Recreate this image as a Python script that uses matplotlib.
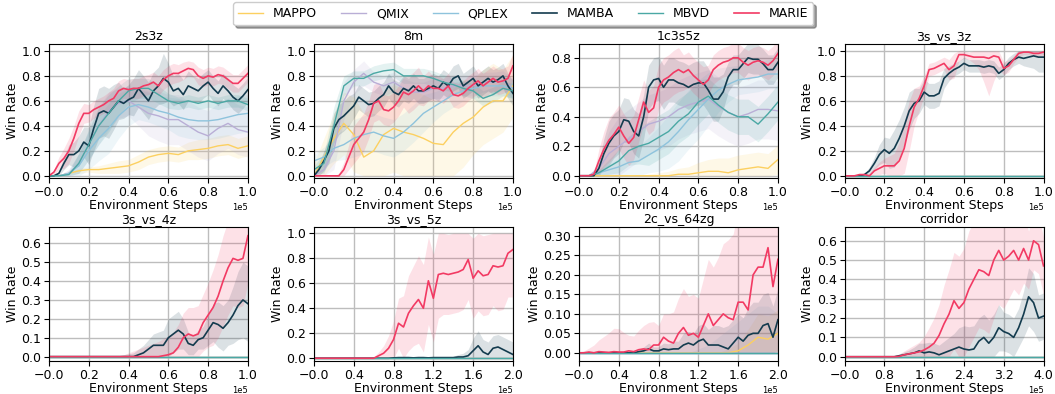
import numpy as np
import matplotlib.pyplot as plt

methods = ["MAPPO", "QMIX", "QPLEX", "MAMBA", "MBVD", "MARIE"]
colors = ["#fcd060", "#b9aed6", "#8ec3dc", "#133b4e", "#4aa8a4", "#f23a63"]

# mean win rate, sampled evenly over the panel's step range
flat = [0.0, 0.0]

# ---- 2s3z
a_mappo = [0, 0, 0.02, 0.04, 0.05, 0.05, 0.06, 0.07, 0.08, 0.11, 0.15, 0.17, 0.18, 0.17, 0.2, 0.21, 0.22, 0.24, 0.25, 0.22, 0.24]
a_qmix = [0, 0, 0.02, 0.1, 0.25, 0.4, 0.52, 0.58, 0.6, 0.55, 0.5, 0.48, 0.45, 0.45, 0.4, 0.35, 0.32, 0.38, 0.42, 0.37, 0.35]
a_qplex = [0, 0, 0.02, 0.08, 0.2, 0.3, 0.38, 0.48, 0.55, 0.57, 0.55, 0.52, 0.5, 0.47, 0.45, 0.44, 0.44, 0.45, 0.47, 0.49, 0.5]
a_mamba = [0, 0, 0.02, 0.1, 0.17, 0.17, 0.2, 0.27, 0.24, 0.38, 0.5, 0.52, 0.5, 0.55, 0.6, 0.58, 0.61, 0.63, 0.7, 0.65,
           0.6, 0.68, 0.72, 0.78, 0.75, 0.68, 0.7, 0.65, 0.72, 0.7, 0.68, 0.72, 0.75, 0.7, 0.66, 0.72, 0.68, 0.63, 0.6, 0.64, 0.69]
a_mbvd = [0, 0, 0.01, 0.1, 0.25, 0.4, 0.5, 0.6, 0.68, 0.7, 0.7, 0.65, 0.6, 0.58, 0.6, 0.58, 0.6, 0.58, 0.6, 0.6, 0.57]
a_marie = [0, 0.03, 0.1, 0.14, 0.2, 0.3, 0.42, 0.5, 0.5, 0.53, 0.55, 0.57, 0.6, 0.62, 0.68, 0.7, 0.69, 0.7, 0.7, 0.72,
           0.73, 0.75, 0.72, 0.77, 0.8, 0.82, 0.82, 0.84, 0.86, 0.85, 0.8, 0.78, 0.8, 0.79, 0.81, 0.8, 0.77, 0.74, 0.74, 0.78, 0.82]
a_mappo_sd = [0, 0, 0.01, 0.02, 0.02, 0.03, 0.04, 0.05, 0.05, 0.06, 0.06, 0.06, 0.06, 0.06, 0.07, 0.08, 0.08, 0.08, 0.08, 0.08, 0.08]
a_qmix_sd = [0, 0, 0.03, 0.08, 0.12, 0.15, 0.15, 0.12, 0.12, 0.15, 0.18, 0.2, 0.2, 0.2, 0.2, 0.2, 0.2, 0.2, 0.2, 0.2, 0.2]
a_qplex_sd = [0, 0, 0.03, 0.1, 0.15, 0.18, 0.2, 0.18, 0.15, 0.12, 0.12, 0.12, 0.13, 0.15, 0.15, 0.15, 0.15, 0.15, 0.15, 0.15, 0.15]
a_mamba_sd = [0, 0.01, 0.02, 0.05, 0.08, 0.1, 0.12, 0.12, 0.15, 0.18, 0.2, 0.2, 0.2, 0.18, 0.15, 0.12, 0.12, 0.15, 0.15, 0.15,
              0.15, 0.15, 0.15, 0.2, 0.15, 0.12, 0.12, 0.12, 0.12, 0.1, 0.1, 0.1, 0.1, 0.1, 0.1, 0.1, 0.1, 0.1, 0.1, 0.1, 0.1]
a_mbvd_sd = [0, 0, 0.02, 0.08, 0.12, 0.15, 0.15, 0.12, 0.1, 0.08, 0.08, 0.07, 0.06, 0.05, 0.05, 0.05, 0.05, 0.05, 0.05, 0.05, 0.05]
a_marie_sd = [0, 0.02, 0.05, 0.08, 0.1, 0.1, 0.1, 0.08, 0.07, 0.07, 0.07, 0.07, 0.07, 0.08, 0.08, 0.08, 0.08, 0.08, 0.08, 0.08,
              0.08, 0.08, 0.08, 0.08, 0.08, 0.08, 0.07, 0.07, 0.06, 0.06, 0.07, 0.07, 0.07, 0.07, 0.07, 0.07, 0.07, 0.07, 0.07, 0.07, 0.07]

# ---- 8m
b_mappo = [0, 0.15, 0.3, 0.42, 0.33, 0.15, 0.2, 0.33, 0.38, 0.35, 0.33, 0.3, 0.26, 0.25, 0.35, 0.42, 0.47, 0.55, 0.6, 0.6, 0.72]
b_qmix = [0, 0.05, 0.2, 0.6, 0.75, 0.82, 0.75, 0.72, 0.75, 0.7, 0.67, 0.67, 0.7, 0.7, 0.72, 0.72, 0.72, 0.75, 0.75, 0.76, 0.7]
b_qplex = [0.12, 0.15, 0.22, 0.25, 0.3, 0.33, 0.35, 0.32, 0.3, 0.35, 0.42, 0.5, 0.55, 0.6, 0.65, 0.68, 0.7, 0.72, 0.72, 0.72, 0.7]
b_mamba = [0, 0.05, 0.12, 0.2, 0.38, 0.45, 0.48, 0.52, 0.56, 0.63, 0.6, 0.57, 0.58, 0.62, 0.65, 0.72, 0.67, 0.65, 0.7, 0.68,
           0.72, 0.68, 0.68, 0.7, 0.72, 0.7, 0.75, 0.72, 0.78, 0.8, 0.72, 0.75, 0.78, 0.72, 0.75, 0.78, 0.75, 0.77, 0.8, 0.72, 0.66]
b_mbvd = [0.05, 0.1, 0.4, 0.72, 0.78, 0.78, 0.82, 0.84, 0.85, 0.8, 0.8, 0.8, 0.78, 0.75, 0.73, 0.7, 0.68, 0.62, 0.65, 0.7, 0.68]
b_marie = [0, 0, 0, 0, 0, 0, 0.05, 0.15, 0.25, 0.3, 0.35, 0.45, 0.58, 0.6, 0.53, 0.52, 0.55, 0.6, 0.67, 0.65,
           0.68, 0.72, 0.68, 0.72, 0.7, 0.7, 0.68, 0.72, 0.65, 0.64, 0.66, 0.7, 0.73, 0.76, 0.72, 0.75, 0.78, 0.75, 0.76, 0.78, 0.88]
b_mappo_sd = [0.1, 0.15, 0.2, 0.25, 0.3, 0.35, 0.35, 0.35, 0.35, 0.35, 0.35, 0.35, 0.35, 0.35, 0.35, 0.35, 0.3, 0.3, 0.3, 0.25, 0.25]
b_qmix_sd = [0.05, 0.08, 0.15, 0.15, 0.1, 0.1, 0.08, 0.08, 0.08, 0.08, 0.08, 0.08, 0.08, 0.08, 0.08, 0.08, 0.08, 0.08, 0.08, 0.08, 0.08]
b_qplex_sd = [0.05, 0.08, 0.1, 0.12, 0.15, 0.15, 0.15, 0.15, 0.15, 0.15, 0.15, 0.15, 0.12, 0.1, 0.1, 0.08, 0.08, 0.08, 0.08, 0.08, 0.08]
b_mamba_sd = [0.02, 0.05, 0.08, 0.1, 0.12, 0.12, 0.12, 0.12, 0.1, 0.1, 0.1, 0.1, 0.1, 0.1, 0.1, 0.1, 0.1, 0.1, 0.1, 0.1,
              0.1, 0.1, 0.1, 0.1, 0.1, 0.1, 0.1, 0.1, 0.1, 0.1, 0.1, 0.1, 0.1, 0.1, 0.1, 0.1, 0.1, 0.1, 0.1, 0.1, 0.1]
b_mbvd_sd = [0.03, 0.08, 0.15, 0.08, 0.06, 0.06, 0.06, 0.06, 0.06, 0.06, 0.06, 0.06, 0.06, 0.06, 0.06, 0.06, 0.06, 0.06, 0.06, 0.06, 0.06]
b_marie_sd = [0, 0, 0, 0, 0, 0.02, 0.06, 0.1, 0.15, 0.15, 0.15, 0.15, 0.15, 0.15, 0.12, 0.12, 0.12, 0.12, 0.12, 0.15,
              0.15, 0.15, 0.12, 0.12, 0.1, 0.1, 0.1, 0.1, 0.1, 0.1, 0.1, 0.1, 0.1, 0.1, 0.1, 0.1, 0.1, 0.1, 0.1, 0.1, 0.1]

# ---- 1c3s5z
c_mappo = [0, 0, 0, 0, 0, 0, 0, 0, 0, 0, 0.01, 0.01, 0.02, 0.03, 0.03, 0.02, 0.04, 0.05, 0.06, 0.05, 0.11]
c_qmix = [0, 0, 0.05, 0.15, 0.2, 0.25, 0.3, 0.35, 0.37, 0.4, 0.45, 0.48, 0.5, 0.52, 0.47, 0.43, 0.4, 0.42, 0.45, 0.45, 0.44]
c_qplex = [0, 0, 0.02, 0.04, 0.06, 0.09, 0.1, 0.14, 0.18, 0.23, 0.3, 0.38, 0.45, 0.52, 0.58, 0.62, 0.65, 0.66, 0.67, 0.69, 0.69]
c_mamba = [0, 0, 0, 0, 0.05, 0.15, 0.22, 0.27, 0.3, 0.38, 0.37, 0.3, 0.27, 0.4, 0.6, 0.65, 0.66, 0.6, 0.65, 0.65,
           0.63, 0.62, 0.6, 0.62, 0.63, 0.63, 0.58, 0.52, 0.52, 0.57, 0.67, 0.72, 0.72, 0.76, 0.8, 0.79, 0.79, 0.76, 0.72, 0.72, 0.77]
c_mbvd = [0, 0, 0.02, 0.06, 0.1, 0.17, 0.2, 0.22, 0.26, 0.3, 0.37, 0.42, 0.5, 0.54, 0.48, 0.43, 0.4, 0.4, 0.35, 0.42, 0.5]
c_marie = [0, 0, 0, 0.01, 0.1, 0.18, 0.24, 0.28, 0.33, 0.27, 0.22, 0.26, 0.38, 0.5, 0.43, 0.46, 0.6, 0.65, 0.67, 0.7,
           0.72, 0.7, 0.72, 0.68, 0.65, 0.62, 0.65, 0.72, 0.75, 0.77, 0.78, 0.8, 0.8, 0.77, 0.75, 0.77, 0.78, 0.77, 0.75, 0.78, 0.83]
c_mappo_sd = [0, 0, 0, 0, 0, 0, 0, 0.01, 0.02, 0.03, 0.04, 0.05, 0.07, 0.08, 0.09, 0.1, 0.1, 0.1, 0.1, 0.1, 0.1]
c_qmix_sd = [0, 0, 0.05, 0.15, 0.2, 0.2, 0.2, 0.2, 0.2, 0.2, 0.2, 0.2, 0.2, 0.2, 0.2, 0.2, 0.2, 0.2, 0.2, 0.2, 0.2]
c_qplex_sd = [0, 0, 0.02, 0.04, 0.06, 0.08, 0.1, 0.12, 0.15, 0.18, 0.2, 0.2, 0.2, 0.18, 0.15, 0.12, 0.1, 0.1, 0.1, 0.1, 0.1]
c_mamba_sd = [0, 0, 0, 0.01, 0.05, 0.1, 0.15, 0.15, 0.15, 0.15, 0.15, 0.15, 0.15, 0.15, 0.15, 0.15, 0.15, 0.15, 0.15, 0.15,
              0.15, 0.15, 0.15, 0.15, 0.15, 0.15, 0.15, 0.15, 0.15, 0.12, 0.1, 0.1, 0.1, 0.1, 0.1, 0.1, 0.1, 0.1, 0.1, 0.1, 0.1]
c_mbvd_sd = [0, 0, 0.02, 0.05, 0.08, 0.1, 0.12, 0.15, 0.15, 0.15, 0.15, 0.15, 0.15, 0.12, 0.12, 0.12, 0.12, 0.12, 0.12, 0.12, 0.12]
c_marie_sd = [0, 0, 0, 0.01, 0.08, 0.12, 0.15, 0.15, 0.15, 0.15, 0.15, 0.15, 0.15, 0.15, 0.15, 0.15, 0.15, 0.15, 0.15, 0.15,
              0.15, 0.12, 0.12, 0.12, 0.12, 0.12, 0.1, 0.1, 0.1, 0.1, 0.1, 0.1, 0.1, 0.1, 0.1, 0.1, 0.1, 0.1, 0.1, 0.1, 0.1]

# ---- 3s_vs_3z
d_mamba = [0, 0, 0, 0, 0.01, 0.04, 0.1, 0.17, 0.21, 0.18, 0.22, 0.3, 0.4, 0.52, 0.58, 0.6, 0.67, 0.64, 0.64, 0.66,
           0.78, 0.82, 0.85, 0.87, 0.9, 0.88, 0.88, 0.88, 0.87, 0.88, 0.87, 0.82, 0.85, 0.9, 0.93, 0.95, 0.94, 0.95, 0.96, 0.95, 0.95]
d_marie = [0, 0, 0, 0.01, 0.01, 0, 0.04, 0.06, 0.08, 0.08, 0.08, 0.12, 0.22, 0.4, 0.55, 0.62, 0.72, 0.85, 0.86, 0.88,
           0.9, 0.85, 0.88, 0.97, 0.97, 0.96, 0.95, 0.95, 0.95, 0.94, 0.96, 0.95, 0.86, 0.88, 0.93, 0.98, 0.99, 0.99, 0.98, 0.98, 0.99]
d_mamba_sd = [0, 0, 0, 0, 0.01, 0.03, 0.05, 0.08, 0.1, 0.12, 0.15, 0.15, 0.15, 0.15, 0.12, 0.1, 0.1, 0.1, 0.1, 0.1,
              0.08, 0.06, 0.05, 0.05, 0.05, 0.05, 0.05, 0.05, 0.05, 0.05, 0.05, 0.05, 0.05, 0.05, 0.05, 0.05, 0.06, 0.08, 0.1, 0.12, 0.12]
d_marie_sd = [0, 0, 0, 0.01, 0.01, 0.01, 0.03, 0.05, 0.06, 0.08, 0.1, 0.15, 0.2, 0.2, 0.15, 0.1, 0.08, 0.05, 0.05, 0.05,
              0.05, 0.08, 0.1, 0.05, 0.03, 0.03, 0.05, 0.1, 0.2, 0.3, 0.2, 0.1, 0.05, 0.05, 0.03, 0.03, 0.02, 0.02, 0.02, 0.02, 0.02]

# ---- 3s_vs_4z
e_mamba = [0, 0, 0, 0, 0, 0, 0, 0, 0, 0, 0, 0, 0, 0, 0, 0, 0, 0,
           0.01, 0.02, 0.04, 0.06, 0.06, 0.06, 0.1, 0.12, 0.14, 0.12, 0.07, 0.06, 0.09, 0.1, 0.14, 0.18, 0.17, 0.15, 0.18, 0.22, 0.27, 0.3, 0.28]
e_marie = [0, 0, 0, 0, 0, 0, 0, 0, 0, 0, 0, 0, 0, 0, 0, 0, 0, 0, 0, 0, 0, 0, 0,
           0.005, 0.01, 0.02, 0.05, 0.1, 0.12, 0.11, 0.12, 0.18, 0.22, 0.26, 0.32, 0.4, 0.47, 0.52, 0.51, 0.52, 0.64]
e_mamba_sd = [0, 0, 0, 0, 0, 0, 0, 0, 0, 0, 0, 0, 0, 0,
              0.005, 0.01, 0.015, 0.02, 0.03, 0.04, 0.05, 0.06, 0.07, 0.08, 0.1, 0.1, 0.1, 0.08, 0.06, 0.05, 0.05, 0.06, 0.08, 0.1,
              0.12, 0.12, 0.12, 0.15, 0.18, 0.2, 0.2]
e_marie_sd = [0, 0, 0, 0, 0, 0, 0, 0, 0, 0, 0, 0, 0, 0,
              0.005, 0.01, 0.02, 0.03, 0.04, 0.05, 0.06, 0.07, 0.08, 0.09, 0.1, 0.11, 0.12, 0.13, 0.14, 0.15, 0.15, 0.15, 0.17, 0.2,
              0.22, 0.24, 0.25, 0.25, 0.25, 0.25, 0.25]

# ---- 3s_vs_5z
f_mamba = [0, 0, 0, 0, 0, 0, 0, 0, 0, 0, 0, 0, 0, 0, 0, 0,
           0.003, 0.005, 0.005, 0.005, 0.003, 0.005, 0.005, 0.003, 0.005, 0.005, 0.005, 0.005,
           0.005, 0.01, 0.01, 0.02, 0.06, 0.1, 0.05, 0.03, 0.08, 0.09, 0.07, 0.05, 0.03]
f_marie = [0, 0, 0, 0, 0, 0, 0, 0, 0, 0, 0, 0,
           0, 0.02, 0.04, 0.08, 0.15, 0.28, 0.25, 0.36, 0.42, 0.47, 0.4, 0.62, 0.48, 0.67, 0.68, 0.67, 0.68, 0.69,
           0.71, 0.79, 0.64, 0.7, 0.66, 0.67, 0.74, 0.73, 0.74, 0.84, 0.87]
f_mamba_sd = [0, 0, 0, 0, 0, 0, 0, 0, 0, 0, 0, 0, 0, 0, 0, 0,
              0.005, 0.005, 0.005, 0.005, 0.005, 0.005, 0.005, 0.005, 0.005, 0.005, 0.005, 0.005,
              0.01, 0.02, 0.03, 0.05, 0.1, 0.12, 0.1, 0.1, 0.1, 0.1, 0.1, 0.1, 0.1]
f_marie_sd = [0, 0, 0, 0, 0, 0, 0, 0, 0, 0, 0, 0,
              0.01, 0.03, 0.06, 0.1, 0.15, 0.2, 0.25, 0.3, 0.32, 0.35, 0.35, 0.35, 0.35, 0.35, 0.33, 0.32, 0.32, 0.32,
              0.32, 0.32, 0.32, 0.32, 0.32, 0.32, 0.32, 0.35, 0.35, 0.35, 0.38]

# ---- 2c_vs_64zg
g_mappo = [0, 0, 0, 0, 0, 0, 0, 0, 0, 0, 0, 0, 0, 0, 0, 0, 0.005, 0.02, 0.04, 0.035, 0.05]
g_qplex = [0, 0, 0, 0, 0, 0, 0, 0, 0, 0, 0, 0, 0, 0, 0, 0, 0, 0, 0, 0, 0]
g_mamba = [0, 0, 0, 0, 0, 0, 0, 0, 0, 0, 0, 0,
           0.003, 0.005, 0.01, 0.005, 0.005, 0.01, 0.008, 0.01, 0.01, 0.02, 0.025, 0.02, 0.03, 0.035, 0.02, 0.02, 0.02,
           0.015, 0.01, 0.025, 0.04, 0.03, 0.045, 0.05, 0.05, 0.07, 0.075, 0.04, 0.085]
g_marie = [0, 0, 0.002, 0, 0.003, 0.002, 0.001, 0.003, 0.002, 0.002, 0.005, 0.003, 0.008, 0.01, 0.008, 0.02, 0.02, 0.04, 0.03, 0.025,
           0.05, 0.065, 0.045, 0.05, 0.04, 0.07, 0.1, 0.07, 0.085, 0.1, 0.09, 0.085, 0.13, 0.13, 0.11, 0.2, 0.22, 0.22, 0.27, 0.17, 0.24]
g_mappo_sd = [0, 0, 0, 0, 0, 0, 0, 0, 0, 0, 0, 0, 0, 0, 0, 0.01, 0.02, 0.04, 0.06, 0.06, 0.06]
g_qplex_sd = [0, 0, 0, 0, 0, 0, 0, 0, 0, 0, 0, 0, 0.01, 0.02, 0.04, 0.06, 0.08, 0.1, 0.12, 0.12, 0.1]
g_mamba_sd = [0, 0, 0, 0, 0, 0, 0, 0, 0, 0, 0, 0,
              0.005, 0.01, 0.015, 0.01, 0.01, 0.015, 0.015, 0.02, 0.02, 0.03, 0.03, 0.03, 0.04, 0.04, 0.04, 0.05, 0.05,
              0.05, 0.06, 0.06, 0.06, 0.06, 0.07, 0.08, 0.08, 0.08, 0.08, 0.08, 0.08]
g_marie_sd = [0, 0.005, 0.01, 0.02, 0.03, 0.04, 0.05, 0.06, 0.06, 0.05, 0.04, 0.04, 0.05, 0.06, 0.07, 0.06, 0.05, 0.06, 0.07, 0.08,
              0.09, 0.1, 0.1, 0.1, 0.1, 0.12, 0.14, 0.15, 0.16, 0.18, 0.2, 0.22, 0.24, 0.26, 0.28, 0.3, 0.3, 0.3, 0.3, 0.3, 0.3]

# ---- corridor
h_mamba = [0, 0, 0, 0, 0, 0, 0, 0, 0, 0, 0,
           0.005, 0.01, 0.015, 0.02, 0.03, 0.02, 0.025, 0.02, 0.01, 0.02, 0.03, 0.04, 0.05, 0.04, 0.035, 0.04, 0.08, 0.1, 0.07,
           0.1, 0.15, 0.13, 0.12, 0.1, 0.15, 0.22, 0.31, 0.28, 0.2, 0.21]
h_marie = [0, 0, 0, 0, 0, 0, 0, 0, 0, 0, 0,
           0.002, 0.01, 0.015, 0.02, 0.025, 0.035, 0.05, 0.07, 0.11, 0.17, 0.22, 0.29, 0.25, 0.28, 0.35, 0.4, 0.45, 0.44, 0.42,
           0.5, 0.55, 0.5, 0.52, 0.55, 0.5, 0.56, 0.5, 0.6, 0.58, 0.47]
h_mamba_sd = [0, 0, 0, 0, 0, 0, 0, 0, 0, 0,
              0.005, 0.01, 0.015, 0.02, 0.03, 0.04, 0.05, 0.05, 0.05, 0.05, 0.06, 0.07, 0.08, 0.1, 0.12, 0.12, 0.12, 0.12, 0.12,
              0.12, 0.12, 0.12, 0.1, 0.1, 0.1, 0.1, 0.12, 0.15, 0.15, 0.12, 0.12]
h_marie_sd = [0, 0, 0, 0, 0, 0, 0, 0, 0, 0,
              0.005, 0.01, 0.02, 0.03, 0.04, 0.05, 0.07, 0.1, 0.13, 0.16, 0.2, 0.23, 0.25, 0.27, 0.28, 0.3, 0.3, 0.3, 0.3,
              0.3, 0.3, 0.28, 0.25, 0.22, 0.2, 0.18, 0.18, 0.15, 0.15, 0.15, 0.15]

titles = ["2s3z", "8m", "1c3s5z", "3s_vs_3z", "3s_vs_4z", "3s_vs_5z", "2c_vs_64zg", "corridor"]
max_steps = [1e5, 1e5, 1e5, 1e5, 1e5, 2e5, 2e5, 4e5]
ylims = [(-0.018, 1.054), (-0.018, 1.054), (-0.016, 0.893), (-0.018, 1.054),
         (-0.023, 0.686), (-0.022, 1.05), (-0.021, 0.323), (-0.022, 0.671)]
ysteps = [0.2, 0.2, 0.2, 0.2, 0.1, 0.2, 0.05, 0.1]

means = [
    [a_mappo, a_qmix, a_qplex, a_mamba, a_mbvd, a_marie],
    [b_mappo, b_qmix, b_qplex, b_mamba, b_mbvd, b_marie],
    [c_mappo, c_qmix, c_qplex, c_mamba, c_mbvd, c_marie],
    [flat, flat, flat, d_mamba, flat, d_marie],
    [flat, flat, flat, e_mamba, flat, e_marie],
    [flat, flat, flat, f_mamba, flat, f_marie],
    [g_mappo, flat, g_qplex, g_mamba, flat, g_marie],
    [flat, flat, flat, h_mamba, flat, h_marie],
]
spreads = [
    [a_mappo_sd, a_qmix_sd, a_qplex_sd, a_mamba_sd, a_mbvd_sd, a_marie_sd],
    [b_mappo_sd, b_qmix_sd, b_qplex_sd, b_mamba_sd, b_mbvd_sd, b_marie_sd],
    [c_mappo_sd, c_qmix_sd, c_qplex_sd, c_mamba_sd, c_mbvd_sd, c_marie_sd],
    [flat, flat, flat, d_mamba_sd, flat, d_marie_sd],
    [flat, flat, flat, e_mamba_sd, flat, e_marie_sd],
    [flat, flat, flat, f_mamba_sd, flat, f_marie_sd],
    [g_mappo_sd, flat, g_qplex_sd, g_mamba_sd, flat, g_marie_sd],
    [flat, flat, flat, h_mamba_sd, flat, h_marie_sd],
]

plt.rcParams['font.size'] = 9

fig = plt.figure(figsize=(10.55, 3.94), dpi=100)
lefts = [0.0464, 0.2976, 0.5488, 0.8005]
bottoms = [0.548, 0.0838]
w, h = 0.1886, 0.340

handles = []
for k in range(8):
    ax = fig.add_axes([lefts[k % 4], bottoms[k // 4], w, h])
    xmax = max_steps[k]
    for j, name in enumerate(methods):
        y = np.array(means[k][j], dtype=float)
        sd = np.array(spreads[k][j], dtype=float)
        x = np.linspace(0, xmax, len(y))
        lw = 1.2 if name in ("MARIE", "MAMBA") else 1.0
        if sd.max() > 0:
            ax.fill_between(x, np.clip(y - sd, 0, None), np.clip(y + sd, None, 1.0),
                            color=colors[j], alpha=0.15, lw=0)
        ln, = ax.plot(x, y, color=colors[j], lw=lw, label=name)
        if k == 0:
            handles.append(ln)
    ax.set_xlim(-1, xmax)
    ax.set_xticks(np.linspace(-1, xmax, 6))
    ax.ticklabel_format(axis='x', style='sci', scilimits=(0, 0))
    ax.xaxis.get_offset_text().set_fontsize(6)
    ax.set_ylim(*ylims[k])
    ax.set_yticks(np.arange(0, ylims[k][1], ysteps[k]))
    ax.grid(True, color='#bdbdbd', lw=1.0)
    ax.set_axisbelow(True)
    ax.set_title(titles[k], fontsize=9, pad=3)
    ax.set_xlabel("Environment Steps", labelpad=0)
    ax.set_ylabel("Win Rate", labelpad=2)
    ax.tick_params(labelsize=9, pad=2)

fig.legend(handles, methods, loc='upper center', bbox_to_anchor=(0.496, 1.01), ncol=6,
           fontsize=9, shadow=True, borderpad=0.4, columnspacing=1.9)

fig.savefig("out.png", dpi=100)
